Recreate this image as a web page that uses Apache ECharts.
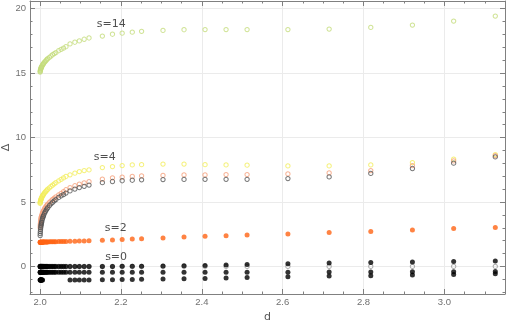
<!DOCTYPE html>
<html lang="en">
<head>
    <meta charset="UTF-8">
    <title>Delta vs d</title>
    <script src="https://cdn.jsdelivr.net/npm/echarts@6/dist/echarts.min.js"></script>
</head>
<body style="margin:0;background:#fff">
<div id="chart" style="width:506px;height:325px"></div>
<script>
    // d values (dense near 2, then coarser)
    var dVals = [2.0001, 2.0003, 2.0006, 2.001, 2.0015, 2.002, 2.0025, 2.003, 2.0035, 2.004,
        2.005, 2.006, 2.007, 2.008, 2.009, 2.011, 2.013, 2.015, 2.017, 2.019,
        2.023, 2.027, 2.031, 2.035, 2.039, 2.046, 2.052, 2.058, 2.064,
        2.074, 2.086, 2.097, 2.109, 2.121,
        2.154, 2.179, 2.203, 2.228, 2.251,
        2.304, 2.356, 2.408, 2.460, 2.512,
        2.613, 2.715, 2.818, 2.921, 3.023, 3.126];

    // s=14
    var s14 = [15.08, 15.14, 15.2, 15.26, 15.31, 15.36, 15.41, 15.44, 15.48, 15.51,
        15.57, 15.63, 15.68, 15.72, 15.77, 15.85, 15.92, 15.99, 16.06, 16.12,
        16.23, 16.33, 16.43, 16.52, 16.6, 16.74, 16.85, 16.95, 17.05,
        17.27, 17.4, 17.5, 17.63, 17.73,
        17.88, 18.02, 18.1, 18.18, 18.25,
        18.32, 18.37, 18.38, 18.38, 18.38,
        18.38, 18.42, 18.55, 18.73, 19.04, 19.43];

    // s=4 (three branches)
    var s4Top = [4.89, 4.95, 5.01, 5.07, 5.13, 5.18, 5.23, 5.27, 5.31, 5.34,
        5.41, 5.47, 5.52, 5.57, 5.62, 5.7, 5.78, 5.85, 5.92, 5.99,
        6.1, 6.21, 6.31, 6.41, 6.5, 6.64, 6.76, 6.87, 6.98,
        7.11, 7.24, 7.36, 7.44, 7.49,
        7.67, 7.75, 7.83, 7.88, 7.9,
        7.94, 7.94, 7.9, 7.88, 7.86,
        7.8, 7.8, 7.88, 8.06, 8.32, 8.68];
    var s4Mid = [3.0, 3.15, 3.3, 3.45, 3.58, 3.68, 3.76, 3.83, 3.89, 3.95,
        4.05, 4.14, 4.22, 4.3, 4.36, 4.48, 4.58, 4.67, 4.75, 4.83,
        4.97, 5.09, 5.2, 5.3, 5.4, 5.55, 5.67, 5.8, 5.95,
        6.12, 6.26, 6.38, 6.49, 6.58,
        6.77, 6.88, 6.93, 6.98, 7.03,
        7.06, 7.1, 7.1, 7.13, 7.13,
        7.18, 7.26, 7.44, 7.83, 8.19, 8.6];
    var s4Low = [2.4, 2.55, 2.7, 2.85, 3.0, 3.12, 3.22, 3.31, 3.39, 3.46,
        3.6, 3.72, 3.82, 3.91, 3.99, 4.13, 4.26, 4.37, 4.47, 4.56,
        4.72, 4.86, 4.98, 5.09, 5.19, 5.35, 5.47, 5.58, 5.69,
        5.86, 6.0, 6.12, 6.22, 6.31,
        6.5, 6.59, 6.65, 6.69, 6.72,
        6.74, 6.75, 6.76, 6.76, 6.76,
        6.82, 6.95, 7.22, 7.6, 8.01, 8.5];

    // s=2
    var s2 = [1.87, 1.87, 1.87, 1.87, 1.87, 1.87, 1.88, 1.88, 1.88, 1.88,
        1.88, 1.88, 1.89, 1.89, 1.89, 1.89, 1.9, 1.9, 1.9, 1.9,
        1.91, 1.91, 1.92, 1.92, 1.92, 1.93, 1.93, 1.94, 1.94,
        1.95, 1.96, 1.97, 1.98, 1.99,
        2.03, 2.06, 2.09, 2.12, 2.15,
        2.21, 2.29, 2.34, 2.39, 2.44,
        2.52, 2.64, 2.72, 2.83, 2.95, 3.03];

    // s=0 (three rows of filled dots + hollow ring at 0)
    var s0Top = [0, 0, 0, 0, 0, 0, 0, 0, 0, 0,
        0, 0, 0, 0, 0, 0, 0, 0, 0, 0,
        0, 0, 0, 0, 0, 0, 0, 0, 0,
        0, 0, 0, 0, 0,
        0, 0, 0.01, 0.01, 0.02,
        0.03, 0.05, 0.08, 0.11, 0.15,
        0.2, 0.26, 0.3, 0.34, 0.38, 0.42];
    var s0Mid = [-0.46, -0.46, -0.46, -0.46, -0.46, -0.46, -0.46, -0.46, -0.46, -0.46,
        -0.46, -0.46, -0.46, -0.46, -0.46, -0.46, -0.46, -0.46, -0.46, -0.46,
        -0.46, -0.46, -0.46, -0.46, -0.46, -0.46, -0.46, -0.46, -0.46,
        -0.46, -0.46, -0.46, -0.46, -0.46,
        -0.46, -0.46, -0.46, -0.46, -0.46,
        -0.46, -0.46, -0.46, -0.46, -0.46,
        -0.45, -0.44, -0.43, -0.42, -0.41, -0.4];
    var s0Low = [-1.05, -1.05, -1.05, -1.05, -1.05, -1.05, -1.05, -1.05, -1.05, -1.05,
        -1.05, -1.05, null, null, null, null, null, null, null, null,
        null, null, null, null, null, null, null, null, null,
        -1.05, -1.05, -1.05, -1.05, -1.05,
        -1.04, -1.03, -1.02, -1.01, -1.0,
        -0.97, -0.95, -0.93, -0.9, -0.86,
        -0.8, -0.75, -0.72, -0.67, -0.62, -0.57];
    var s0Ring = [0, 0, 0, 0, 0, 0, 0, 0, 0, 0,
        0, 0, 0, 0, 0, 0, 0, 0, 0, 0,
        0, 0, 0, 0, 0, 0, 0, 0, 0,
        0, 0, 0, 0, 0,
        0, 0, 0, 0, 0,
        0, 0, 0, 0, 0,
        0, 0, 0, 0, 0, 0];

    // annotations
    var noteText = ['s=14', 's=4', 's=2', 's=0'];
    var noteD = [2.176, 2.16, 2.187, 2.188];
    var noteDelta = [18.77, 8.46, 3.0, 0.73];

    // ticks
    var xMajor = [2.0, 2.2, 2.4, 2.6, 2.8, 3.0];
    var xMinor = [2.05, 2.1, 2.15, 2.25, 2.3, 2.35, 2.45, 2.5, 2.55, 2.65, 2.7, 2.75,
        2.85, 2.9, 2.95, 3.05, 3.1];
    var yMajor = [0, 5, 10, 15, 20];
    var yMinor = [-2, -1, 1, 2, 3, 4, 6, 7, 8, 9, 11, 12, 13, 14, 16, 17, 18, 19];

    var X_MIN = 1.975, X_MAX = 3.15, Y_MIN = -2.14, Y_MAX = 20.6;
    var frameColor = '#808080';

    function pairs(ys) {
        var out = [];
        for (var i = 0; i < dVals.length; i++) {
            if (ys[i] !== null) out.push([dVals[i], ys[i]]);
        }
        return out;
    }

    function frameAxis(kind, pos, ticks, len, extra) {
        var ax = {
            type: 'value',
            position: pos,
            min: kind === 'x' ? X_MIN : Y_MIN,
            max: kind === 'x' ? X_MAX : Y_MAX,
            axisLine: {show: false, onZero: false, lineStyle: {color: frameColor, width: 1}},
            axisTick: {show: true, inside: true, length: len, customValues: ticks,
                lineStyle: {color: frameColor, width: 1}},
            axisLabel: {show: false},
            splitLine: {show: false}
        };
        for (var k in extra) ax[k] = extra[k];
        return ax;
    }

    function hollow(name, ys, color) {
        return {
            name: name, type: 'scatter', data: pairs(ys),
            symbol: 'circle', symbolSize: 4.3,
            itemStyle: {color: 'rgba(0,0,0,0)', borderColor: color, borderWidth: 1}
        };
    }

    function filled(name, ys, color) {
        return {
            name: name, type: 'scatter', data: pairs(ys),
            symbol: 'circle', symbolSize: 5,
            itemStyle: {color: color}
        };
    }

    var notes = [];
    for (var i = 0; i < noteText.length; i++) notes.push([noteD[i], noteDelta[i], noteText[i]]);

    var tickLabel = {color: '#707070', fontSize: 9.5, fontFamily: 'Liberation Sans'};

    var chart = echarts.init(document.getElementById('chart'));
    chart.setOption({
        animation: false,
        grid: {left: 30, right: 1, top: 1, bottom: 31, containLabel: false, outerBoundsMode: 'none'},
        xAxis: [
            frameAxis('x', 'bottom', xMajor, 5, {
                axisLine: {show: true, onZero: false, lineStyle: {color: frameColor, width: 1}},
                axisLabel: {show: true, customValues: xMajor, margin: 3,
                    formatter: function (v) { return v.toFixed(1); },
                    color: tickLabel.color, fontSize: tickLabel.fontSize, fontFamily: tickLabel.fontFamily},
                splitLine: {show: true, lineStyle: {color: '#ebebeb', width: 1}},
                name: 'd', nameLocation: 'middle', nameGap: 18, nameMoveOverlap: false,
                nameTextStyle: {color: '#555', fontSize: 11, fontFamily: 'DejaVu Sans'}
            }),
            frameAxis('x', 'bottom', xMinor, 2.5, {}),
            frameAxis('x', 'top', xMajor, 5, {
                axisLine: {show: true, onZero: false, lineStyle: {color: frameColor, width: 1}}
            }),
            frameAxis('x', 'top', xMinor, 2.5, {})
        ],
        yAxis: [
            frameAxis('y', 'left', yMajor, 5, {
                axisLine: {show: true, onZero: false, lineStyle: {color: frameColor, width: 1}},
                axisLabel: {show: true, customValues: yMajor, margin: 4,
                    color: tickLabel.color, fontSize: tickLabel.fontSize, fontFamily: tickLabel.fontFamily},
                splitLine: {show: true, lineStyle: {color: '#ebebeb', width: 1}},
                name: 'Δ', nameLocation: 'middle', nameGap: 18, nameRotate: 90, nameMoveOverlap: false,
                nameTextStyle: {color: '#555', fontSize: 11, fontFamily: 'DejaVu Sans'}
            }),
            frameAxis('y', 'left', yMinor, 2.5, {}),
            frameAxis('y', 'right', yMajor, 5, {
                axisLine: {show: true, onZero: false, lineStyle: {color: frameColor, width: 1}}
            }),
            frameAxis('y', 'right', yMinor, 2.5, {})
        ],
        series: [
            hollow('ring0', s0Ring, '#9a9a9a'),
            filled('s0 top', s0Top, '#000000'),
            filled('s0 mid', s0Mid, '#000000'),
            filled('s0 low', s0Low, '#000000'),
            filled('s2', s2, '#ff6414'),
            hollow('s4 top', s4Top, '#f3ee5c'),
            hollow('s4 mid', s4Mid, '#f6a07c'),
            hollow('s4 low', s4Low, '#555555'),
            hollow('s14', s14, '#c4dc7c'),
            {
                name: 'notes', type: 'scatter', data: notes,
                symbol: 'circle', symbolSize: 1,
                itemStyle: {color: 'rgba(0,0,0,0)'},
                label: {show: true, position: 'inside',
                    formatter: function (p) { return p.data[2]; },
                    color: '#222', fontSize: 11, fontFamily: 'DejaVu Sans'},
                z: 5
            }
        ]
    });
</script>
</body>
</html>
